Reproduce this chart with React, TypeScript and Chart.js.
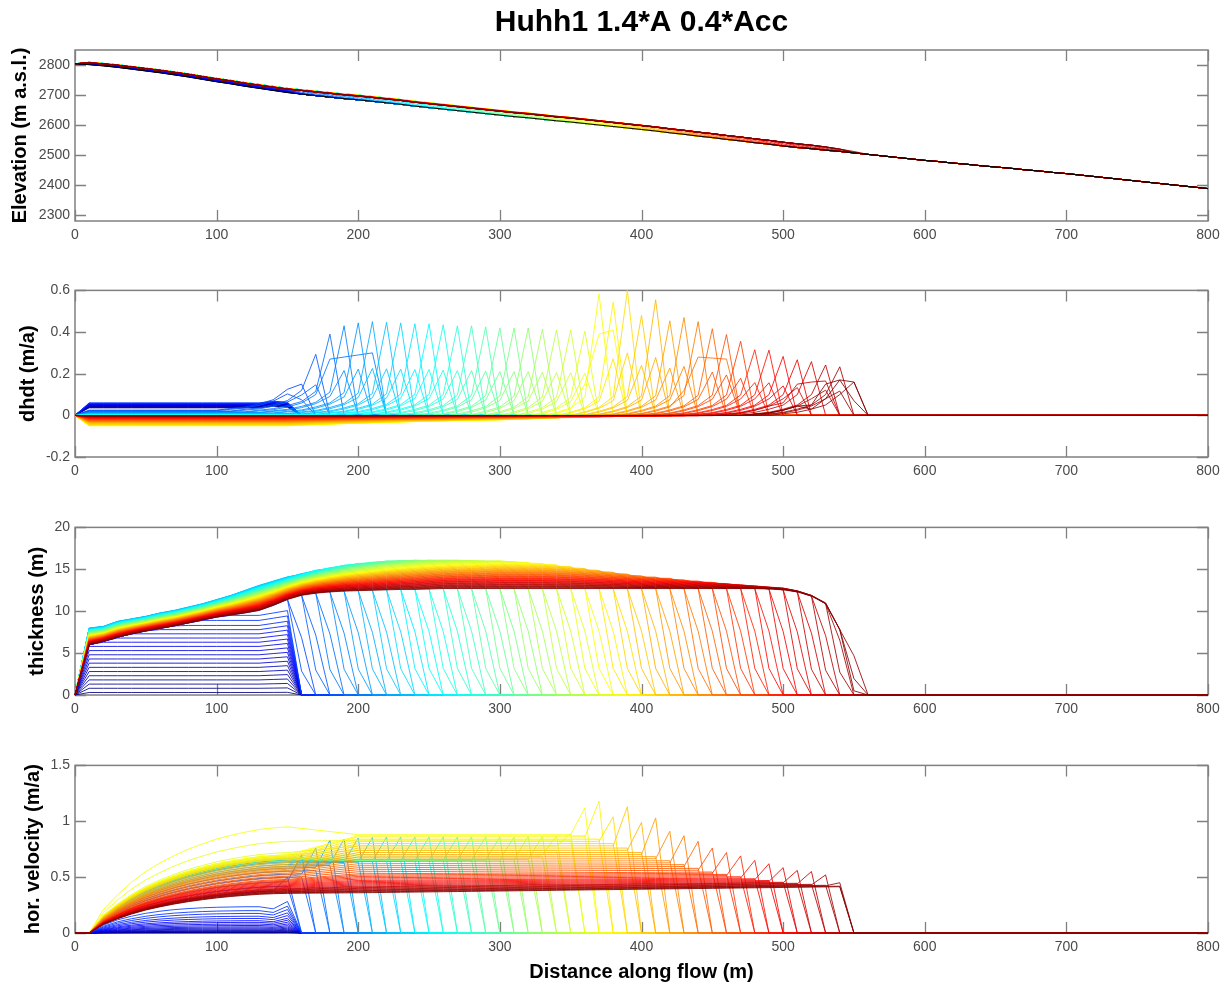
import React, { useEffect, useRef } from 'react';
import { Chart, registerables } from 'chart.js';

Chart.register(...registerables);

const FONT = "'Liberation Sans', Arial, Helvetica, sans-serif";
const AXIS_COLOR = '#808080';
const TICK_COLOR = '#4a4a4a';

const TITLE = 'Huhh1 1.4*A 0.4*Acc';
const X_LABEL = 'Distance along flow (m)';
const Y_LABELS = ['Elevation (m a.s.l.)', 'dhdt (m/a)', 'thickness (m)', 'hor. velocity (m/a)'];

const X_TICKS = [0, 100, 200, 300, 400, 500, 600, 700, 800];
const ELEV_TICKS = [2300, 2400, 2500, 2600, 2700, 2800];
const DHDT_TICKS = [-0.2, 0, 0.2, 0.4, 0.6];
const THICK_TICKS = [0, 5, 10, 15, 20];
const VEL_TICKS = [0, 0.5, 1, 1.5];

// model nodes along flow (m)
const GRID_X = [0, 10, 20, 30, 40, 50, 60, 70, 80, 90, 100, 110, 120, 130, 140, 150, 160, 170, 180, 190, 200, 210, 220, 230, 240, 250, 260, 270, 280, 290, 300, 310, 320, 330, 340, 350, 360, 370, 380, 390, 400, 410, 420, 430, 440, 450, 460, 470, 480, 490, 500, 510, 520, 530, 540, 550, 560, 570, 580, 590, 600, 610, 620, 630, 640, 650, 660, 670, 680, 690, 700, 710, 720, 730, 740, 750, 760, 770, 780, 790, 800];

// bed elevation (black line), m a.s.l.
const BED = [
  2804, 2801, 2797, 2792, 2786, 2780, 2774, 2767, 2760, 2752,
  2744, 2737, 2729, 2722, 2715, 2708, 2703, 2698, 2693, 2688,
  2684, 2679, 2674, 2669, 2663, 2658, 2653, 2648, 2643, 2638,
  2633, 2628, 2624, 2619, 2614, 2610, 2605, 2600, 2595, 2590,
  2585, 2580, 2574, 2569, 2563, 2558, 2552, 2547, 2541, 2536,
  2530, 2525, 2521, 2516, 2512, 2507, 2502, 2497, 2492, 2487,
  2482, 2478, 2473, 2469, 2464, 2460, 2456, 2451, 2447, 2442,
  2438, 2433, 2428, 2423, 2418, 2413, 2408, 2403, 2398, 2393,
  2388,
];

// final (dark red) thickness profile, x = 0..560
const THICK_FINAL = [
  0, 6.0, 6.4, 6.9, 7.3, 7.65, 7.95, 8.25, 8.6, 8.95,
  9.3, 9.55, 9.8, 10.1, 10.7, 11.4, 11.9, 12.15, 12.3, 12.4,
  12.45, 12.5, 12.55, 12.6, 12.6, 12.65, 12.7, 12.7, 12.7, 12.7,
  12.7, 12.7, 12.7, 12.7, 12.7, 12.7, 12.7, 12.7, 12.7, 12.7,
  12.7, 12.7, 12.7, 12.7, 12.7, 12.7, 12.7, 12.7, 12.7, 12.65,
  12.55, 12.3, 11.8, 10.9, 7.8, 0.5, 0,
];

// upper envelope of the thickness bundle, x = 0..560
const THICK_TOP = [
  0, 8.0, 8.2, 8.8, 9.1, 9.4, 9.8, 10.1, 10.5, 10.9,
  11.4, 11.9, 12.5, 13.1, 13.6, 14.1, 14.5, 14.9, 15.2, 15.5,
  15.7, 15.85, 16.0, 16.05, 16.1, 16.1, 16.1, 16.1, 16.05, 16.0,
  16.0, 15.9, 15.8, 15.7, 15.55, 15.4, 15.2, 15.0, 14.8, 14.6,
  14.4, 14.25, 14.1, 13.9, 13.75, 13.6, 13.45, 13.3, 13.15, 13.0,
  12.9, 12.6, 12.1, 11.4, 9.6, 5.0, 0,
];

// early (growth) profiles: thickness level, dhdt level, velocity level
const GROWTH_THICK = [0.3, 0.8, 1.3, 1.8, 2.3, 2.8, 3.3, 3.8, 4.3, 4.8, 5.3, 5.8, 6.3, 6.8, 7.3, 7.8, 8.3, 8.9, 9.5];
const GROWTH_DHDT = [0.036, 0.038, 0.04, 0.041, 0.043, 0.044, 0.046, 0.047, 0.048, 0.05, 0.051, 0.052, 0.053, 0.054, 0.055, 0.056, 0.057, 0.058, 0.06];
const GROWTH_VEL = [0.002, 0.004, 0.007, 0.011, 0.016, 0.021, 0.028, 0.036, 0.045, 0.055, 0.067, 0.08, 0.095, 0.11, 0.13, 0.15, 0.175, 0.2, 0.235];
const GROWTH_VEL_SHAPE = [0, 0, 0.3, 0.5, 0.64, 0.75, 0.83, 0.89, 0.93, 0.96, 0.98, 0.99, 1.0, 1.0, 0.92, 1.2, 0];

// velocity shape of the upper reach (x = 0..150)
const VEL_SHAPE = [0, 0, 0.22, 0.36, 0.48, 0.58, 0.66, 0.73, 0.79, 0.84, 0.885, 0.92, 0.95, 0.975, 0.99, 1.0];

// front nodes and the peaks read at them
const PEAK_NODES = [160, 170, 180, 190, 200, 210, 220, 230, 240, 250, 260, 270, 280, 290, 300, 310, 320, 330, 340, 350, 360, 370, 380, 390, 400, 410, 420, 430, 440, 450, 460, 470, 480, 490, 500, 510, 520, 530, 540, 550];
const DHDT_PEAKS = [0.15, 0.293, 0.39, 0.43, 0.444, 0.45, 0.447, 0.444, 0.44, 0.44, 0.435, 0.43, 0.43, 0.425, 0.42, 0.42, 0.42, 0.414, 0.41, 0.41, 0.405, 0.584, 0.543, 0.6, 0.48, 0.555, 0.454, 0.47, 0.45, 0.416, 0.388, 0.356, 0.315, 0.313, 0.283, 0.267, 0.258, 0.242, 0.233, 0.16];
// velocity spikes, one node behind each front node (150 .. 540)
const VEL_PEAKS = [0.5, 0.7, 0.76, 0.83, 0.84, 0.85, 0.855, 0.86, 0.86, 0.86, 0.86, 0.86, 0.86, 0.86, 0.86, 0.86, 0.86, 0.865, 0.865, 0.87, 0.89, 1.12, 1.18, 1.04, 1.13, 0.99, 1.03, 0.91, 0.87, 0.82, 0.76, 0.72, 0.69, 0.65, 0.62, 0.585, 0.56, 0.55, 0.52, 0.45];

// per-line readings [line index, value]
const VEL150_KEYS = [[19, 0.38], [22, 0.5], [25, 0.58], [28, 0.63], [32, 0.66], [55, 0.665], [58, 0.7], [59, 0.72], [60, 0.82], [61, 0.95], [62, 0.7], [64, 0.68], [66, 0.66], [70, 0.6], [75, 0.55], [80, 0.48], [90, 0.4], [99, 0.355]];
const VELFAR_KEYS = [[19, 0.4], [25, 0.6], [28, 0.63], [35, 0.645], [50, 0.655], [55, 0.66], [57, 0.7], [59, 0.78], [61, 0.88], [63, 0.86], [66, 0.8], [70, 0.72], [75, 0.62], [80, 0.53], [85, 0.47], [90, 0.42], [95, 0.385], [99, 0.36]];
const VELTILT_KEYS = [[19, 0], [70, 0], [85, 0.06], [99, 0.15]];
const DHDT_UP_KEYS = [[19, 0.025], [24, 0.015], [30, 0.008], [40, 0], [48, -0.014], [55, -0.034], [60, -0.05], [64, -0.047], [70, -0.034], [78, -0.022], [86, -0.011], [92, -0.005], [99, -0.002]];
// which line forms the top of the thickness bundle at x  [x, line]
const THICK_TOPLINE_KEYS = [[0, 29], [150, 31], [200, 42], [250, 52], [300, 58], [350, 64], [400, 72], [500, 92], [560, 99]];
// along-flow fading of the upstream dhdt, x = 0..560
const DHDT_TAPER = [
  0, 1, 1, 1, 1, 1, 1, 1, 1, 1,
  1, 1, 1, 1, 1, 1, 0.95, 0.9, 0.85, 0.8,
  0.76, 0.72, 0.68, 0.64, 0.6, 0.57, 0.54, 0.51, 0.48, 0.45,
  0.43, 0.4, 0.37, 0.34, 0.32, 0.3, 0.28, 0.26, 0.24, 0.22,
  0.2, 0.19, 0.18, 0.17, 0.16, 0.15, 0.14, 0.13, 0.12, 0.11,
  0.1, 0.09, 0.08, 0.07, 0.06, 0.05, 0,
];
const APPROACH_SHARP = [0.1, 0.05, 0.03, 0.015, 0.008];
const APPROACH_SOFT = [0.08, 0.045, 0.025, 0.012, 0.006];
const DHDT_HUMPS: { line: number; pts: number[][] }[] = [
  { line: 24, pts: [[170, 0.1], [180, 0.27], [190, 0.28], [200, 0.29], [210, 0.3], [220, 0]] },
  { line: 62, pts: [[360, 0.15], [370, 0.39], [380, 0.41], [390, 0]] },
  { line: 76, pts: [[430, 0.12], [440, 0.28], [450, 0.275], [460, 0.27], [470, 0]] },
  { line: 92, pts: [[500, 0.06], [510, 0.15], [520, 0.16], [530, 0.165], [540, 0]] },
  { line: 98, pts: [[520, 0.05], [530, 0.15], [540, 0.17], [550, 0.16], [560, 0]] },
  { line: 99, pts: [[520, 0.03], [530, 0.08], [540, 0.17], [550, 0.07], [560, 0]] },
];

const N_LINES = 100;
const N_GROWTH = 19;
const LAST = N_LINES - 1;
const LINE_WIDTH = 0.85;

function keyed(keys: number[][], v: number): number {
  if (v <= keys[0][0]) return keys[0][1];
  for (let k = 1; k < keys.length; k++) {
    if (v <= keys[k][0]) {
      const [x0, y0] = keys[k - 1];
      const [x1, y1] = keys[k];
      return y0 + ((y1 - y0) * (v - x0)) / (x1 - x0);
    }
  }
  return keys[keys.length - 1][1];
}

function frontNode(i: number) {
  return i === LAST ? 550 : 160 + 10 * Math.floor((i - N_GROWTH) / 2);
}
function isSharp(i: number) {
  return i !== LAST && (i - N_GROWTH) % 2 === 0;
}
function peakIdx(node: number) {
  return PEAK_NODES.indexOf(node);
}

function jet(t: number) {
  const c = (v: number) => Math.round(255 * Math.max(0, Math.min(1, v)));
  const r = c(1.5 - Math.abs(4 * t - 3));
  const g = c(1.5 - Math.abs(4 * t - 2));
  const b = c(1.5 - Math.abs(4 * t - 1));
  return `rgb(${r},${g},${b})`;
}

function thicknessLine(i: number): number[] {
  return GRID_X.map((x, k) => {
    if (i < N_GROWTH) {
      const L = GROWTH_THICK[i];
      if (x === 0 || x >= 160) return 0;
      if (x <= 130) return Math.min(L, THICK_FINAL[k]);
      if (x === 140) return Math.min(L * 1.03, THICK_FINAL[k]);
      return Math.min(L * 1.06, THICK_FINAL[k]);
    }
    if (i === LAST) return k < THICK_FINAL.length ? THICK_FINAL[k] : 0;
    const pn = frontNode(i);
    if (x <= pn - 10) {
      const top = keyed(THICK_TOPLINE_KEYS, x);
      const w = i <= top
        ? Math.pow((i - N_GROWTH) / Math.max(1, top - N_GROWTH), 0.3)
        : (LAST - i) / (LAST - top);
      const lo = THICK_FINAL[k];
      const hi = THICK_TOP[k];
      const u = lo + w * (hi - lo);
      const f = Math.min(1, (pn - 10 - x) / 30);
      return lo + (u - lo) * f;
    }
    if (x === pn) return (isSharp(i) ? 0.6 : 0.25) * THICK_FINAL[k - 1];
    return 0;
  });
}

function dhdtLine(i: number): number[] {
  return GRID_X.map((x, k) => {
    if (i < N_GROWTH) {
      const g = GROWTH_DHDT[i];
      if (x === 0 || x >= 160) return 0;
      if (x <= 130) return g;
      if (x === 140) return g + 0.008;
      return g + 0.003;
    }
    const up = keyed(DHDT_UP_KEYS, i);
    const base = k < DHDT_TAPER.length ? up * DHDT_TAPER[k] : 0;
    const hump = DHDT_HUMPS.find((h) => h.line === i);
    if (hump) {
      const first = hump.pts[0][0];
      if (x >= first) {
        const p = hump.pts.find((q) => q[0] === x);
        return p ? p[1] : 0;
      }
      const d = first - x + 10;
      return d <= 50 ? base + APPROACH_SOFT[d / 10 - 1] : base;
    }
    const pn = frontNode(i);
    const d = pn - x;
    if (d > 50) return base;
    if (d >= 10) return base + (isSharp(i) ? APPROACH_SHARP : APPROACH_SOFT)[d / 10 - 1];
    if (d === 0) {
      const pk = DHDT_PEAKS[peakIdx(pn)];
      return isSharp(i) ? pk : 0.5 * pk;
    }
    return 0;
  });
}

function velocityLine(i: number): number[] {
  return GRID_X.map((x, k) => {
    if (i < N_GROWTH) {
      return k < GROWTH_VEL_SHAPE.length ? GROWTH_VEL[i] * GROWTH_VEL_SHAPE[k] : 0;
    }
    const a150 = keyed(VEL150_KEYS, i);
    const afar = keyed(VELFAR_KEYS, i);
    const tilt = keyed(VELTILT_KEYS, i);
    const level = x <= 150
      ? a150 * VEL_SHAPE[k]
      : x < 200
        ? a150 + ((afar - a150) * (x - 150)) / 50
        : afar * (1 + (tilt * (x - 200)) / 340);
    const pn = frontNode(i);
    if (isSharp(i)) {
      if (x <= pn - 20) return level;
      if (x === pn - 10) return VEL_PEAKS[peakIdx(pn)];
      return 0;
    }
    return x <= pn - 10 ? level : 0;
  });
}

const LINE_IDS = Array.from({ length: N_LINES }, (_, i) => i);
const THICK_LINES = LINE_IDS.map(thicknessLine);
const DHDT_LINES = LINE_IDS.map(dhdtLine);
const VEL_LINES = LINE_IDS.map(velocityLine);
const ELEV_LINES = THICK_LINES.map((h) => h.map((v, k) => BED[k] + v));

function toPoints(vals: number[]) {
  return vals.map((y, k) => ({ x: GRID_X[k], y }));
}

function lineSets(lines: number[][]) {
  return lines.map((vals, i) => ({
    data: toPoints(vals),
    borderColor: jet(i / LAST),
    borderWidth: LINE_WIDTH,
    pointRadius: 0,
    tension: 0,
    fill: false,
    clip: false as const,
    order: 1000 - i,
  }));
}

const matlabBox = {
  id: 'matlabBox',
  beforeDatasetsDraw(chart: any) {
    const { ctx, chartArea: a } = chart;
    const xs = chart.scales.x;
    const ys = chart.scales.y;
    const L = 11;
    ctx.save();
    ctx.strokeStyle = AXIS_COLOR;
    ctx.lineWidth = 1.3;
    ctx.beginPath();
    xs.ticks.forEach((t: any) => {
      const px = Math.round(xs.getPixelForValue(t.value)) + 0.5;
      ctx.moveTo(px, a.bottom);
      ctx.lineTo(px, a.bottom - L);
      ctx.moveTo(px, a.top);
      ctx.lineTo(px, a.top + L);
    });
    ys.ticks.forEach((t: any) => {
      const py = Math.round(ys.getPixelForValue(t.value)) + 0.5;
      ctx.moveTo(a.left, py);
      ctx.lineTo(a.left + L, py);
      ctx.moveTo(a.right, py);
      ctx.lineTo(a.right - L, py);
    });
    ctx.stroke();
    ctx.lineWidth = 1.5;
    ctx.strokeRect(a.left, a.top, a.right - a.left, a.bottom - a.top);
    ctx.restore();
  },
  afterDraw(chart: any, _args: any, opts: any) {
    if (!opts || !opts.title) return;
    const { ctx, chartArea: a } = chart;
    ctx.save();
    ctx.fillStyle = '#000000';
    ctx.font = `bold 30px ${FONT}`;
    ctx.textAlign = 'center';
    ctx.textBaseline = 'middle';
    ctx.fillText(opts.title, (a.left + a.right) / 2, 23);
    ctx.restore();
  },
};

type Panel = {
  canvasTop: number;
  height: number;
  padTop: number;
  xAxisHeight: number;
  yMin: number;
  yMax: number;
  yTicks: number[];
  yLabel: string;
  yLabelPad: number;
  showTitle: boolean;
  showXLabel: boolean;
  datasets: any[];
};

const PANELS: Panel[] = [
  {
    canvasTop: 0, height: 250, padTop: 50, xAxisHeight: 29,
    yMin: 2280, yMax: 2850, yTicks: ELEV_TICKS, yLabel: Y_LABELS[0], yLabelPad: 8,
    showTitle: true, showXLabel: false,
    datasets: [
      ...lineSets(ELEV_LINES),
      { data: toPoints(BED), borderColor: '#000000', borderWidth: 1, pointRadius: 0, tension: 0, fill: false, clip: false, order: 0 },
    ],
  },
  {
    canvasTop: 277, height: 209, padTop: 10, xAxisHeight: 29,
    yMin: -0.2, yMax: 0.6, yTicks: DHDT_TICKS, yLabel: Y_LABELS[1], yLabelPad: 16,
    showTitle: false, showXLabel: false,
    datasets: lineSets(DHDT_LINES),
  },
  {
    canvasTop: 514, height: 210, padTop: 10, xAxisHeight: 29,
    yMin: 0, yMax: 20, yTicks: THICK_TICKS, yLabel: Y_LABELS[2], yLabelPad: 25,
    showTitle: false, showXLabel: false,
    datasets: lineSets(THICK_LINES),
  },
  {
    canvasTop: 752, height: 235, padTop: 10, xAxisHeight: 54,
    yMin: 0, yMax: 1.5, yTicks: VEL_TICKS, yLabel: Y_LABELS[3], yLabelPad: 21,
    showTitle: false, showXLabel: true,
    datasets: lineSets(VEL_LINES),
  },
];

function buildConfig(p: Panel): any {
  return {
    type: 'line',
    data: { datasets: p.datasets },
    options: {
      animation: false,
      responsive: false,
      devicePixelRatio: 1,
      events: [],
      layout: { padding: { left: 0, right: 19, top: p.padTop, bottom: 0 } },
      plugins: {
        legend: { display: false },
        tooltip: { enabled: false },
        title: { display: false },
        matlabBox: { title: p.showTitle ? TITLE : '' },
      },
      scales: {
        x: {
          type: 'linear',
          min: 0,
          max: 800,
          afterBuildTicks: (s: any) => { s.ticks = X_TICKS.map((v) => ({ value: v })); },
          afterFit: (s: any) => { s.height = p.xAxisHeight; },
          grid: { display: false, drawTicks: false },
          border: { display: false },
          ticks: {
            color: TICK_COLOR,
            font: { family: FONT, size: 14 },
            padding: 6,
            maxRotation: 0,
            autoSkip: false,
            callback: (v: any) => String(v),
          },
          title: {
            display: p.showXLabel,
            text: X_LABEL,
            color: '#000000',
            font: { family: FONT, size: 20, weight: 'bold', lineHeight: 1.2 },
            padding: { top: 0, bottom: 3 },
          },
        },
        y: {
          type: 'linear',
          min: p.yMin,
          max: p.yMax,
          afterBuildTicks: (s: any) => { s.ticks = p.yTicks.map((v) => ({ value: v })); },
          afterFit: (s: any) => { s.width = 75; },
          grid: { display: false, drawTicks: false },
          border: { display: false },
          ticks: {
            color: TICK_COLOR,
            font: { family: FONT, size: 14 },
            padding: 5,
            autoSkip: false,
            callback: (v: any) => String(v),
          },
          title: {
            display: true,
            text: p.yLabel,
            color: '#000000',
            font: { family: FONT, size: 20, weight: 'bold', lineHeight: 1.2 },
            padding: { top: p.yLabelPad, bottom: 0 },
          },
        },
      },
    },
    plugins: [matlabBox],
  };
}

export default function App() {
  const canvases = useRef<(HTMLCanvasElement | null)[]>([]);

  useEffect(() => {
    const charts = PANELS.map((p, idx) => new Chart(canvases.current[idx] as HTMLCanvasElement, buildConfig(p)));
    return () => charts.forEach((c) => c.destroy());
  }, []);

  return (
    <div style={{ position: 'absolute', left: 0, top: 0, width: 1227, height: 987, background: '#ffffff', overflow: 'hidden' }}>
      {PANELS.map((p, idx) => (
        <canvas
          key={idx}
          ref={(el) => { canvases.current[idx] = el; }}
          width={1227}
          height={p.height}
          style={{ position: 'absolute', left: 0, top: p.canvasTop, width: 1227, height: p.height, display: 'block' }}
        />
      ))}
    </div>
  );
}
